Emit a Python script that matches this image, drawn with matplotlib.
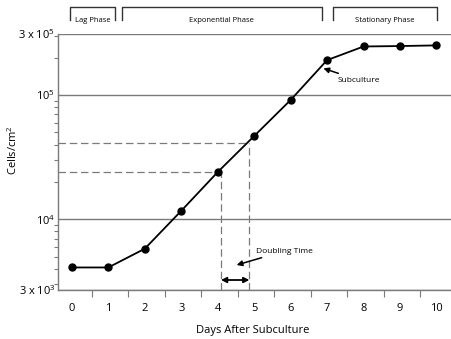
import matplotlib
matplotlib.use('agg')
import matplotlib.pyplot as plt
import matplotlib.ticker as mticker
import numpy as np

days = [0, 1, 2, 3, 4, 5, 6, 7, 8, 9, 10]
cells = [4100, 4100, 5800, 11700, 24000, 46800, 91200, 191000, 246000, 248000, 251000]

ytick_vals = [2700, 1e4, 1e5, 3.1e5]
ytick_labels = [r'3 x 10$^{3}$', r'10$^{4}$', r'10$^{5}$', r'3 x 10$^{5}$']

# doubling time guides
dbl_x = [4.09, 4.87]
dbl_y = [24000, 41300]
arrow_y = 3250

phases = ['Lag Phase', 'Exponential Phase', 'Stationary Phase']
phase_start = [-0.06, 1.38, 7.15]
phase_end = [1.19, 6.85, 10.01]

plt.rcParams['font.family'] = ['Open Sans', 'DejaVu Sans']
plt.rcParams['mathtext.fontset'] = 'custom'
plt.rcParams['mathtext.rm'] = 'Open Sans'
plt.rcParams['mathtext.it'] = 'Open Sans'

grey = '#7a7a7a'
fig = plt.figure(figsize=(4.51, 3.39), dpi=100)
ax = fig.add_axes([0.1286, 0.1445, 0.8714, 0.7552])

ax.set_yscale('log')
ax.set_ylim(2700, 3.1e5)
ax.set_xlim(-0.38, 10.4)

ax.yaxis.set_major_locator(mticker.FixedLocator(ytick_vals))
ax.yaxis.set_major_formatter(mticker.FixedFormatter(ytick_labels))
ax.yaxis.set_minor_locator(mticker.LogLocator(base=10, subs=np.arange(2, 10)))
ax.yaxis.set_minor_formatter(mticker.NullFormatter())
ax.grid(axis='y', which='major', color=grey, linewidth=1.0)
ax.tick_params(axis='y', which='major', length=0, labelsize=8, pad=2)
ax.tick_params(axis='y', which='minor', length=3, color=grey, width=0.8)

ax.set_xticks(days)
ax.set_xticks([d + 0.55 for d in days[:-1]], minor=True)
ax.tick_params(axis='x', which='major', length=0, labelsize=8, pad=9)
ax.tick_params(axis='x', which='minor', length=5, color=grey, width=0.8)

for s in ['right', 'top']:
    ax.spines[s].set_visible(False)
for s in ['left', 'bottom']:
    ax.spines[s].set_color(grey)
    ax.spines[s].set_linewidth(1.0)

# dashed guides
dash = dict(color=grey, linestyle=(0, (6, 3)), linewidth=0.9)
for xv, yv in zip(dbl_x, dbl_y):
    ax.plot([-0.38, xv], [yv, yv], **dash)
    ax.plot([xv, xv], [2700, yv], **dash)

ax.plot(days, cells, color='black', marker='o', markersize=5, linewidth=1.3, zorder=5)

ax.annotate('', xy=(dbl_x[0], arrow_y), xytext=(dbl_x[1], arrow_y),
            arrowprops=dict(arrowstyle='<|-|>', color='black', lw=1.3, mutation_scale=8,
                            shrinkA=0, shrinkB=0))
ax.annotate('Doubling Time', xy=(4.52, 4290), xytext=(5.05, 5560),
            fontsize=6, va='center', ha='left',
            arrowprops=dict(arrowstyle='-|>', color='black', lw=1.1, mutation_scale=8,
                            shrinkA=1, shrinkB=0))
ax.annotate('Subculture', xy=(6.9, 164000), xytext=(7.28, 132000),
            fontsize=6, va='center', ha='left',
            arrowprops=dict(arrowstyle='-|>', color='black', lw=1.1, mutation_scale=8,
                            shrinkA=1, shrinkB=0))

# phase brackets above the plot
trans = matplotlib.transforms.blended_transform_factory(ax.transData, fig.transFigure)
for name, x0, x1 in zip(phases, phase_start, phase_end):
    ax.plot([x0, x0, x1, x1], [0.941, 0.979, 0.979, 0.941], color='#333333',
            linewidth=1.0, transform=trans, clip_on=False)
    ax.text((x0 + x1) / 2, 0.941, name, transform=trans, ha='center', va='center',
            fontsize=5.5)

ax.set_ylabel('Cells/cm$^{2}$', fontsize=8, va='center')
ax.yaxis.set_label_coords(-0.115, 0.547)
ax.set_xlabel('Days After Subculture', fontsize=8, va='center')
ax.xaxis.set_label_coords(0.496, -0.16)

fig.savefig('out.png', dpi=100)
